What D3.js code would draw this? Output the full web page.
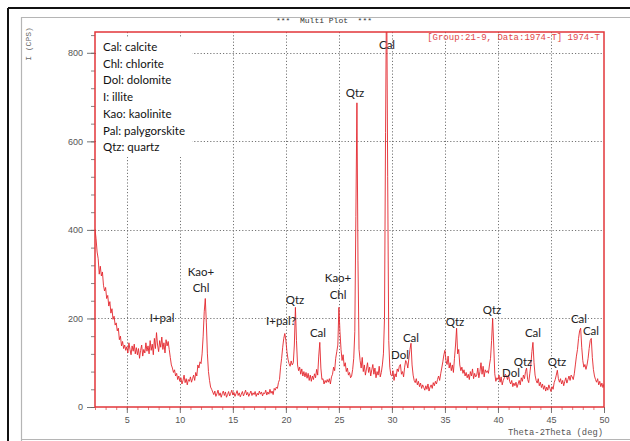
<!DOCTYPE html>
<html>
<head>
<meta charset="utf-8">
<script src="https://cdn.jsdelivr.net/npm/d3@7"></script>
<style>
  html, body { margin: 0; padding: 0; background: #fff; }
  svg { display: block; }
</style>
</head>
<body>
<svg id="chart" width="630" height="441"></svg>
<script>
// XRD scan: intensity (CPS) sampled every 0.1 deg 2-theta from 2 to 50 deg
const scanStart = 2;
const scanStep = 0.1;
const intensity = [
  402, 380, 350, 335, 300, 318, 296, 305, 275, 262,
  270, 245, 252, 228, 238, 212, 222, 198, 205, 185,
  190, 172, 178, 152, 160, 138, 148, 132, 140, 128,
  136, 122, 145, 130, 118, 138, 126, 142, 120, 134,
  118, 132, 110, 128, 140, 115, 130, 122, 145, 126,
  138, 120, 150, 128, 142, 118, 155, 132, 168, 140,
  125, 150, 135, 158, 130, 145, 122, 152, 138, 148,
  130, 112, 95, 88, 78, 84, 70, 76, 62, 70,
  58, 66, 52, 60, 72, 55, 64, 50, 62, 58,
  68, 56, 64, 72, 60, 78, 70, 95, 88, 102,
  98, 120, 160, 215, 245, 190, 120, 80, 60, 45,
  40, 34, 28, 36, 24, 30, 38, 26, 32, 22,
  30, 36, 26, 34, 22, 28, 35, 25, 31, 38,
  27, 33, 24, 30, 37, 26, 32, 23, 29, 35,
  25, 31, 38, 27, 33, 24, 30, 36, 26, 32,
  28, 35, 24, 31, 27, 36, 29, 34, 25, 32,
  30, 38, 27, 34, 29, 40, 31, 36, 28, 42,
  38, 45, 42, 55, 62, 90, 110, 135, 155, 166,
  150, 125, 108, 98, 92, 104, 95, 100, 140, 225,
  150, 95, 82, 90, 74, 86, 70, 80, 68, 78,
  65, 76, 60, 72, 58, 70, 62, 75, 66, 85,
  72, 115, 146, 88, 62, 64, 52, 60, 55, 62,
  56, 64, 52, 68, 74, 90, 82, 110, 125, 140,
  225, 170, 130, 105, 118, 92, 100, 80, 88, 72,
  78, 66, 70, 85, 110, 170, 430, 687, 330, 130,
  105, 88, 112, 80, 95, 72, 86, 100, 78, 90,
  70, 84, 96, 74, 88, 66, 80, 72, 92, 68,
  78, 95, 120, 200, 620, 980, 520, 150, 90, 72,
  70, 82, 60, 75, 68, 86, 80, 92, 96, 74,
  80, 68, 90, 105, 100, 88, 110, 130, 144, 95,
  72, 60, 55, 64, 50, 58, 46, 54, 42, 50,
  44, 38, 48, 40, 52, 36, 45, 50, 42, 55,
  48, 58, 52, 62, 70, 60, 75, 88, 102, 118,
  128, 105, 96, 115, 88, 100, 82, 95, 78, 110,
  140, 178, 120, 130, 95, 82, 90, 76, 84, 70,
  78, 66, 74, 62, 80, 70, 86, 64, 76, 68,
  72, 88, 66, 80, 100, 74, 92, 68, 84, 78,
  82, 76, 95, 110, 150, 200, 140, 75, 58, 66,
  62, 72, 56, 68, 50, 60, 66, 74, 70, 62,
  72, 58, 52, 60, 46, 54, 48, 56, 44, 52,
  60, 50, 66, 58, 72, 64, 80, 88, 62, 55,
  75, 95, 125, 146, 100, 72, 60, 54, 64, 48,
  56, 44, 52, 40, 48, 36, 45, 38, 50, 42,
  35, 46, 40, 55, 62, 72, 83, 64, 56, 64,
  52, 60, 48, 58, 66, 54, 62, 70, 60, 72,
  68, 62, 75, 95, 115, 130, 155, 172, 178, 135,
  105, 90, 96, 85, 95, 110, 132, 150, 155, 112,
  85, 70, 62, 56, 64, 50, 58, 46, 54, 44,
  52
];

// Axis ticks
const xMajorTicks = [5, 10, 15, 20, 25, 30, 35, 40, 45, 50];
const xGridTicks = [5, 10, 15, 20, 25, 30, 35, 40, 45];
const yMajorTicks = [0, 200, 400, 600, 800];
const yGridTicks = [200, 400, 600, 800];

// Mineral key
const mineralKey = [
  "Cal: calcite",
  "Chl: chlorite",
  "Dol: dolomite",
  "I: illite",
  "Kao: kaolinite",
  "Pal: palygorskite",
  "Qtz: quartz"
];

// Peak assignments: label lines, anchored at (2-theta, CPS) of the first line
const peakLabels = [
  { lines: ["I+pal"], deg: 8.32, cps: 201 },
  { lines: ["Kao+", "Chl"], deg: 12.0, cps: 305 },
  { lines: ["I+pal?"], deg: 19.54, cps: 194 },
  { lines: ["Qtz"], deg: 20.86, cps: 242 },
  { lines: ["Cal"], deg: 23.03, cps: 167 },
  { lines: ["Kao+", "Chl"], deg: 24.92, cps: 291 },
  { lines: ["Qtz"], deg: 26.52, cps: 709 },
  { lines: ["Cal"], deg: 29.54, cps: 818 },
  { lines: ["Dol"], deg: 30.76, cps: 117 },
  { lines: ["Cal"], deg: 31.8, cps: 156 },
  { lines: ["Qtz"], deg: 35.95, cps: 192 },
  { lines: ["Qtz"], deg: 39.44, cps: 219 },
  { lines: ["Dol"], deg: 41.23, cps: 77 },
  { lines: ["Qtz"], deg: 42.36, cps: 102 },
  { lines: ["Cal"], deg: 43.3, cps: 167 },
  { lines: ["Qtz"], deg: 45.57, cps: 102 },
  { lines: ["Cal"], deg: 47.64, cps: 199 },
  { lines: ["Cal"], deg: 48.77, cps: 172 }
];

const scan = intensity.map((v, i) => ({ deg: scanStart + i * scanStep, cps: v }));

const svg = d3.select("#chart");
const plot = { left: 95, right: 604, top: 32, bottom: 407 };

const x = d3.scaleLinear().domain([2, 50]).range([plot.left, plot.right]);
const y = d3.scaleLinear().domain([0, 847]).range([plot.bottom, plot.top]);

const mono = "'Liberation Mono', 'DejaVu Sans Mono', monospace";
const sans = "Lato, 'Open Sans', sans-serif";
const red = "#e3262c";

// Window frame
svg.append("line").attr("x1", 8).attr("y1", 8).attr("x2", 630).attr("y2", 8)
  .attr("stroke", "#111").attr("stroke-width", 2);
svg.append("line").attr("x1", 8).attr("y1", 8).attr("x2", 8).attr("y2", 441)
  .attr("stroke", "#111").attr("stroke-width", 2);
svg.append("path").attr("d", "M21.5,441 V17.5 H630")
  .attr("fill", "none").attr("stroke", "#b5b5b5").attr("stroke-width", 1.2);
svg.append("line").attr("x1", 21).attr("y1", 439.5).attr("x2", 630).attr("y2", 439.5)
  .attr("stroke", "#b5b5b5").attr("stroke-width", 1.2);

// Title
svg.append("text").attr("x", 324).attr("y", 23)
  .attr("text-anchor", "middle").attr("font-family", mono).attr("font-size", 8)
  .attr("fill", "#333").attr("xml:space", "preserve").style("white-space", "pre")
  .text("***  Multi Plot  ***");

// Dotted grid
const grid = svg.append("g").attr("stroke", "#666").attr("stroke-width", 0.9)
  .attr("stroke-dasharray", "1.2,2");
grid.selectAll("line.vx").data(xGridTicks).join("line")
  .attr("x1", d => Math.round(x(d)) + 0.5).attr("x2", d => Math.round(x(d)) + 0.5)
  .attr("y1", plot.top).attr("y2", plot.bottom);
grid.selectAll("line.hy").data(yGridTicks).join("line")
  .attr("y1", d => Math.round(y(d)) + 0.5).attr("y2", d => Math.round(y(d)) + 0.5)
  .attr("x1", plot.left).attr("x2", plot.right);

// Key panel background
svg.append("rect").attr("x", 96).attr("y", 37).attr("width", 96).attr("height", 120)
  .attr("fill", "#fff");

// Scan trace, clipped to the plotting area
svg.append("clipPath").attr("id", "plot-clip").append("rect")
  .attr("x", plot.left).attr("y", plot.top)
  .attr("width", plot.right - plot.left).attr("height", plot.bottom - plot.top);
const line = d3.line().x(d => x(d.deg)).y(d => y(d.cps));
svg.append("path").datum(scan)
  .attr("clip-path", "url(#plot-clip)")
  .attr("fill", "none").attr("stroke", red).attr("stroke-width", 0.9)
  .attr("stroke-linejoin", "round").attr("d", line);

// Axes
const yAxisMajor = d3.axisLeft(y).tickValues(yMajorTicks).tickSize(8).tickPadding(4);
const yAxisMinor = d3.axisLeft(y).tickValues(d3.range(0, 847, 40)).tickSize(4).tickFormat("");
const xAxisMajor = d3.axisBottom(x).tickValues(xMajorTicks).tickSize(6).tickPadding(4);
const xAxisMinor = d3.axisBottom(x).tickValues(d3.range(2, 50.5, 1)).tickSize(3).tickFormat("");

function styleAxis(g, color) {
  g.select(".domain").remove();
  g.selectAll(".tick line").attr("stroke", color).attr("stroke-width", 0.9);
  g.selectAll(".tick text").attr("fill", "#555").attr("font-family", "'Liberation Sans', Arial, sans-serif")
    .attr("font-size", 9);
}
svg.append("g").attr("transform", `translate(${plot.left},0)`).call(yAxisMinor).call(g => styleAxis(g, "#777"));
svg.append("g").attr("transform", `translate(${plot.left},0)`).call(yAxisMajor).call(g => styleAxis(g, "#666"));
svg.append("g").attr("transform", `translate(0,${plot.bottom})`).call(xAxisMinor).call(g => styleAxis(g, "#e06a6a"));
svg.append("g").attr("transform", `translate(0,${plot.bottom})`).call(xAxisMajor).call(g => styleAxis(g, "#666"));

// Plot frame
svg.append("rect").attr("x", plot.left).attr("y", plot.top)
  .attr("width", plot.right - plot.left).attr("height", plot.bottom - plot.top)
  .attr("fill", "none").attr("stroke", "#e2363a").attr("stroke-width", 1.5);

// Axis titles
svg.append("text").attr("transform", "translate(31,44) rotate(-90)")
  .attr("text-anchor", "middle").attr("font-family", mono).attr("font-size", 8)
  .attr("fill", "#666").text("I (CPS)");
svg.append("text").attr("x", 603).attr("y", 435).attr("text-anchor", "end")
  .attr("font-family", mono).attr("font-size", 8.8).attr("fill", "#555")
  .text("Theta-2Theta (deg)");

// Scan header
svg.append("text").attr("x", 600).attr("y", 40).attr("text-anchor", "end")
  .attr("font-family", mono).attr("font-size", 9).attr("fill", "#e0474a")
  .text("[Group:21-9, Data:1974-T] 1974-T");

// Mineral key
svg.append("g").selectAll("text").data(mineralKey).join("text")
  .attr("x", 103).attr("y", (d, i) => 51 + i * 16.7)
  .attr("font-family", sans).attr("font-size", 11.5).attr("fill", "#111")
  .text(d => d);

// Peak labels
const labelG = svg.append("g").attr("font-family", sans).attr("font-size", 11.5)
  .attr("fill", "#222").attr("text-anchor", "middle");
peakLabels.forEach(p => {
  const t = labelG.append("text").attr("x", x(p.deg)).attr("y", y(p.cps)).attr("dy", "0.35em");
  p.lines.forEach((s, i) => {
    t.append("tspan").attr("x", x(p.deg)).attr("dy", i === 0 ? "0.35em" : 16.5).text(s);
  });
});
</script>
</body>
</html>
